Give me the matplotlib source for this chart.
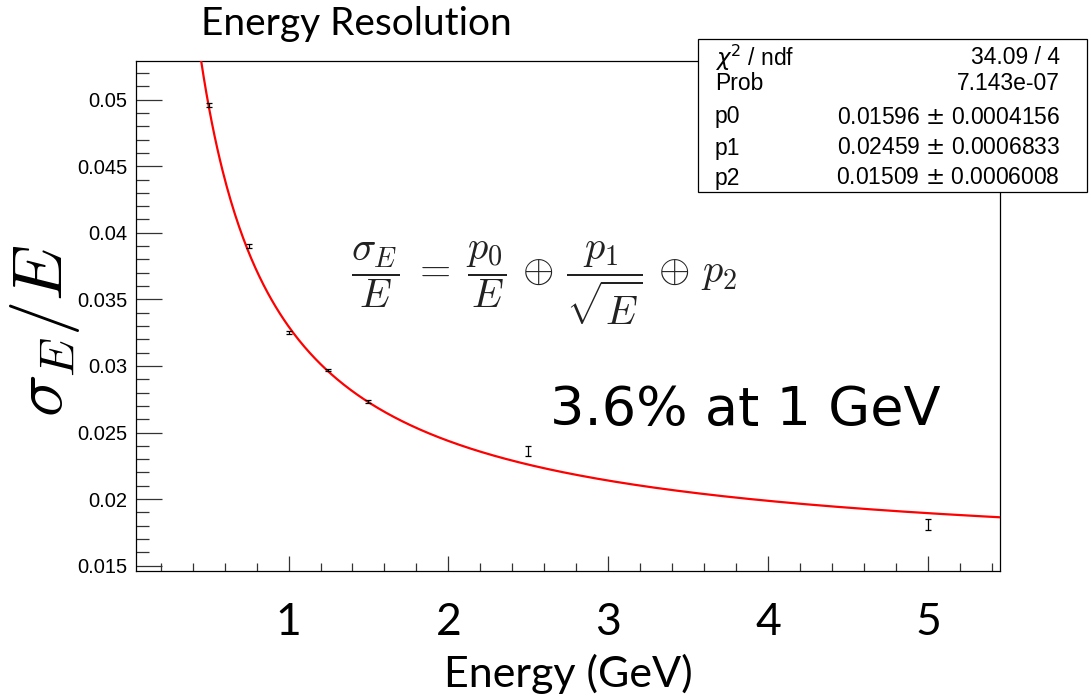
import numpy as np
import matplotlib
matplotlib.use("Agg")
import matplotlib.pyplot as plt
from matplotlib.ticker import MultipleLocator, FixedLocator
from matplotlib.patches import Rectangle

plt.rcParams["mathtext.fontset"] = "cm"

# Measured resolution points
energy = [0.5, 0.75, 1.0, 1.25, 1.5, 2.5, 5.0]
resolution = [0.0496, 0.0390, 0.0325, 0.0297, 0.0273, 0.0236, 0.0181]
res_err = [0.00012, 0.00012, 0.0001, 0.0001, 0.00012, 0.00038, 0.0004]

# Fit result: sigma/E = p0/E (+) p1/sqrt(E) (+) p2
fit_labels = ["p0", "p1", "p2"]
fit_values = [0.01596, 0.02459, 0.01509]
fit_errors = [0.0004156, 0.0006833, 0.0006008]
chi2, ndf = 34.09, 4
prob = "7.143e-07"

x_ticks = [1, 2, 3, 4, 5]


def resolution_model(e, p0, p1, p2):
    return np.sqrt((p0 / e) ** 2 + (p1 / np.sqrt(e)) ** 2 + p2 ** 2)


fig = plt.figure(figsize=(10.9, 7.0), dpi=100)
ax = fig.add_axes([136 / 1090, 1 - 571 / 700, (1000 - 136) / 1090, (571 - 61) / 700])

e_grid = np.linspace(0.35, 5.45, 600)
ax.plot(e_grid, resolution_model(e_grid, *fit_values), color="red", lw=1.6, zorder=3)
ax.errorbar(energy, resolution, yerr=res_err, fmt="none", ecolor="black",
            elinewidth=0.9, capsize=2.5, capthick=0.9, zorder=4)

ax.set_xlim(0.046, 5.45)
ax.set_ylim(0.0146, 0.0529)

ax.xaxis.set_major_locator(FixedLocator(x_ticks))
ax.xaxis.set_minor_locator(MultipleLocator(0.2))
ax.yaxis.set_minor_locator(MultipleLocator(0.001))
ax.set_yticks([0.015, 0.02, 0.025, 0.03, 0.035, 0.04, 0.045, 0.05])
ax.set_yticklabels(["0.015", "0.02", "0.025", "0.03", "0.035", "0.04", "0.045", "0.05"],
                   fontfamily="Liberation Sans", fontsize=14.5)
ax.set_xticklabels([str(t) for t in x_ticks], fontfamily="Lato", fontsize=32)

ax.tick_params(axis="y", which="major", direction="in", length=19, width=0.9,
               color="#333333", pad=6)
ax.tick_params(axis="y", which="minor", direction="in", length=9.5, width=0.9,
               color="#333333")
ax.tick_params(axis="x", which="major", direction="in", length=11, width=0.9,
               color="#333333", pad=22)
ax.tick_params(axis="x", which="minor", direction="in", length=5.5, width=0.9,
               color="#333333")
for sp in ax.spines.values():
    sp.set_linewidth(0.9)

ax.set_xlabel("Energy (GeV)", fontfamily="Lato", fontsize=31, labelpad=8)

fig.text(45 / 1090, 1 - 330 / 700, r"$\sigma_E/E$", rotation=90, fontsize=51,
         ha="center", va="center")

fig.text(356 / 1090, 1 - 24 / 700, "Energy Resolution", fontfamily="Lato",
         fontsize=28, ha="center", va="center")

ax.text(544 / 1090, 1 - 283 / 700,
        r"$\dfrac{\sigma_E}{E}\;=\;\dfrac{p_0}{E}\,\oplus\,\dfrac{p_1}{\sqrt{E}}\,\oplus\,p_2$",
        transform=fig.transFigure, fontsize=29, color="#222222",
        ha="center", va="center")

fig.text(745 / 1090, 1 - 410 / 700, "3.6% at 1 GeV", fontfamily="DejaVu Sans",
         fontsize=39, ha="center", va="center")

# Stats box
box = Rectangle((698 / 1090, 1 - 192 / 700), (1087 - 698) / 1090, (192 - 39) / 700,
                transform=fig.transFigure, facecolor="white", edgecolor="black",
                lw=0.9, zorder=10)
fig.add_artist(box)

stat_font = dict(fontfamily="Liberation Sans", fontsize=16.5, va="center", zorder=11)
left_x, right_x = 715 / 1090, 1060 / 1090
rows_y = [58, 84, 117, 148, 178]
fig.text(left_x, 1 - rows_y[0] / 700, r"$\chi^{2}$ / ndf", math_fontfamily="dejavusans",
         ha="left", **stat_font)
fig.text(right_x, 1 - rows_y[0] / 700, f"{chi2:.2f} / {ndf}", ha="right", **stat_font)
fig.text(left_x, 1 - rows_y[1] / 700, "Prob", ha="left", **stat_font)
fig.text(right_x, 1 - rows_y[1] / 700, prob, ha="right", **stat_font)
for lab, val, err, yy in zip(fit_labels, fit_values, fit_errors, rows_y[2:]):
    fig.text(left_x, 1 - yy / 700, lab, ha="left", **stat_font)
    fig.text(right_x, 1 - yy / 700, f"{val:.5f} $\\pm$ {err:.7f}",
             math_fontfamily="dejavusans", ha="right", **stat_font)

fig.savefig("out.png", dpi=100)
